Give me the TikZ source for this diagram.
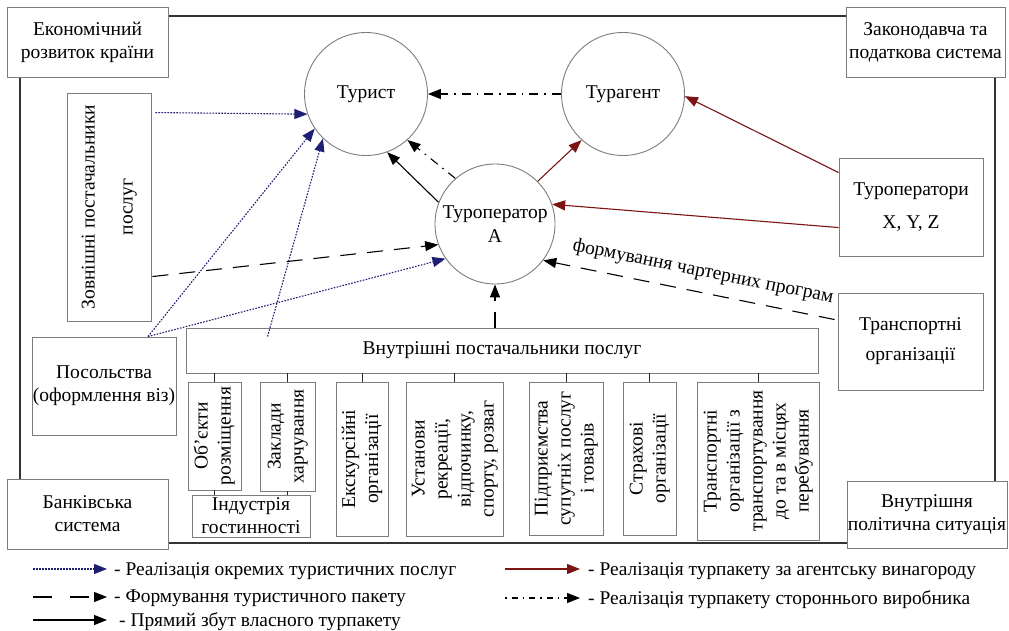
\documentclass[tikz,border=0pt]{standalone}
\usepackage{fontspec}
\setmainfont{Liberation Serif}
\usetikzlibrary{arrows.meta,calc}
\definecolor{navy}{RGB}{30,30,115}
\definecolor{dred}{RGB}{125,20,20}
\definecolor{bord}{RGB}{125,125,125}
\newcommand{\rottext}[1]{\rotatebox{90}{\begin{tabular}{@{}c@{}}#1\end{tabular}}}
\tikzset{
  box/.style={draw=bord, line width=0.9pt, fill=white, inner sep=0pt, align=center},
  circ/.style={draw=bord, line width=0.9pt, circle, minimum size=123pt, inner sep=0pt, align=center},
  frame/.style={draw=black!80, line width=1.3pt},
  link/.style={draw=black!85, line width=1pt},
  tip/.style={-{Triangle[length=13pt,width=10pt]}},
  blu/.style={tip, navy, line width=1.1pt, dash pattern=on 1.6pt off 1.4pt},
  dsh/.style={tip, black, line width=1.1pt, dash pattern=on 16pt off 11pt},
  sol/.style={tip, black, line width=1.1pt},
  redar/.style={tip, dred, line width=1.1pt},
  dd/.style={tip, black, line width=1.1pt, dash pattern=on 9pt off 6pt on 1.6pt off 6pt},
  leg/.style={anchor=base west, inner sep=0pt, font=\fontsize{19.4}{23}\selectfont}
}
\begin{document}
\begin{tikzpicture}[x=1pt, y=-1pt, font=\fontsize{19.5}{23}\selectfont]
\useasboundingbox[fill=white] (0,0) rectangle (1009,631);

% outer frame
\draw[frame] (20,16) rectangle (995,543);

% corner boxes
\node[box, minimum width=161pt, minimum height=70pt] (ek) at (87.5,42) {Економічний\\розвиток країни};
\node[box, minimum width=159pt, minimum height=70pt] (zak) at (925.5,42) {Законодавча та\\податкова система};
\node[box, minimum width=161pt, minimum height=70pt] (bank) at (87.5,514) {Банківська\\система};
\node[box, minimum width=160pt, minimum height=67pt] (vps) at (927,514.5) {Внутрішня\\політична ситуація};

% circles
\node[circ] (tur) at (366,94) {Турист};
\node[circ] (tag) at (623,94) {Турагент};
\node[circ, minimum size=120pt] (tA) at (495,224) {Туроператор\\[1pt]A};

% side boxes
\node[box, minimum width=84pt, minimum height=228pt] (zov) at (109,207) {\rottext{Зовнішні постачальники\\[15pt]послуг}};
\node[box, minimum width=144pt, minimum height=98pt] (pos) at (104,386) {Посольства\\(оформлення віз)};
\node[box, minimum width=144pt, minimum height=98pt] (xyz) at (911,207) {Туроператори\\[10pt]X, Y, Z};
\node[box, minimum width=145pt, minimum height=97pt] (trn) at (910.5,341.5) {Транспортні\\[7pt]організації};

% internal suppliers
\node[box, minimum width=632pt, minimum height=45pt] (vn) at (502,350.5) {Внутрішні постачальники послуг};
\node[box, minimum width=53pt, minimum height=108pt] (b1) at (214.5,436) {\rottext{Об’єкти\\розміщення}};
\node[box, minimum width=55pt, minimum height=109pt] (b2) at (287.5,436.5) {\rottext{Заклади\\харчування}};
\node[box, minimum width=52pt, minimum height=154pt] (b3) at (362,459) {\rottext{Екскурсійні\\організації}};
\node[box, minimum width=97pt, minimum height=154pt] (b4) at (454.5,459) {\rottext{Установи\\рекреації,\\відпочинку,\\спорту, розваг}};
\node[box, minimum width=74pt, minimum height=153pt] (b5) at (566,458.5) {\rottext{Підприємства\\супутніх послуг\\і товарів}};
\node[box, minimum width=53pt, minimum height=153pt] (b6) at (649.5,458.5) {\rottext{Страхові\\організації}};
\node[box, minimum width=122pt, minimum height=158pt] (b7) at (758,461) {\rottext{Транспортні\\організації з\\транспортування\\до та в місцях\\перебування}};
\node[box, minimum width=118pt, minimum height=42pt] (ind) at (251,516) {Індустрія\\гостинності};

\foreach \b in {b1,b2,b3,b4,b5,b6,b7}
  \draw[link] (\b.north) -- (\b.north |- vn.south);
\draw[link] (b1.south) -- (b1.south |- ind.north);
\draw[link] (b2.south) -- (b2.south |- ind.north);

% connectors
\draw[blu] ($(zov.north east)+(4,20)$) -- (tur.199);
\draw[blu] ($(pos.north)+(44,0)$) -- (tur.214);
\draw[blu] ($(pos.north)+(44,0)$) -- (tA.215);
\draw[blu] ($(vn.north west)+(82,9)$) -- (tur.226);
\draw[dsh] ($(zov.north east)+(1,184)$) -- (tA.200);
\draw[dsh] ($(trn.north west)+(-3,27)$) -- (tA.323);
\draw[dsh] (tA.south |- vn.north) -- (tA.south);
\draw[sol] (tA.159) -- (tur.290);
\draw[dd] (tag.west) -- (tur.east);
\draw[dd] (tA.131) -- (tur.312);
\draw[redar] (tA.45) -- (tag.228);
\draw[redar] ($(xyz.north west)+(0,70)$) -- (tA.19);
\draw[redar] ($(xyz.north west)+(0,15)$) -- (tag.358);

\node[rotate=-11.3, inner sep=0pt] (lblch) at (703,272) {формування чартерних програм};

% legend
\coordinate (l1a) at (33,569); \coordinate (l1b) at (107,569);
\coordinate (l2a) at (33,597); \coordinate (l2b) at (107,597);
\coordinate (l3a) at (33,620); \coordinate (l3b) at (107,620);
\coordinate (r1a) at (505,569); \coordinate (r1b) at (580,569);
\coordinate (r2a) at (505,598); \coordinate (r2b) at (580,598);
\draw[blu] (l1a) -- (l1b);
\draw[dsh, dash pattern=on 19pt off 18pt] (l2a) -- (l2b);
\draw[sol] (l3a) -- (l3b);
\draw[redar] (r1a) -- (r1b);
\draw[dd, dash pattern=on 1.6pt off 5pt on 6pt off 5pt] (r2a) -- (r2b);
\node[leg] (t1) at (114,575) {- Реалізація окремих туристичних послуг};
\node[leg] (t2) at (114,602) {- Формування туристичного пакету};
\node[leg] (t3) at (119,626) {- Прямий збут власного турпакету};
\node[leg] (t4) at (588,575) {- Реалізація турпакету за агентську винагороду};
\node[leg] (t5) at (588,604) {- Реалізація турпакету стороннього виробника};
\end{tikzpicture}
\end{document}
